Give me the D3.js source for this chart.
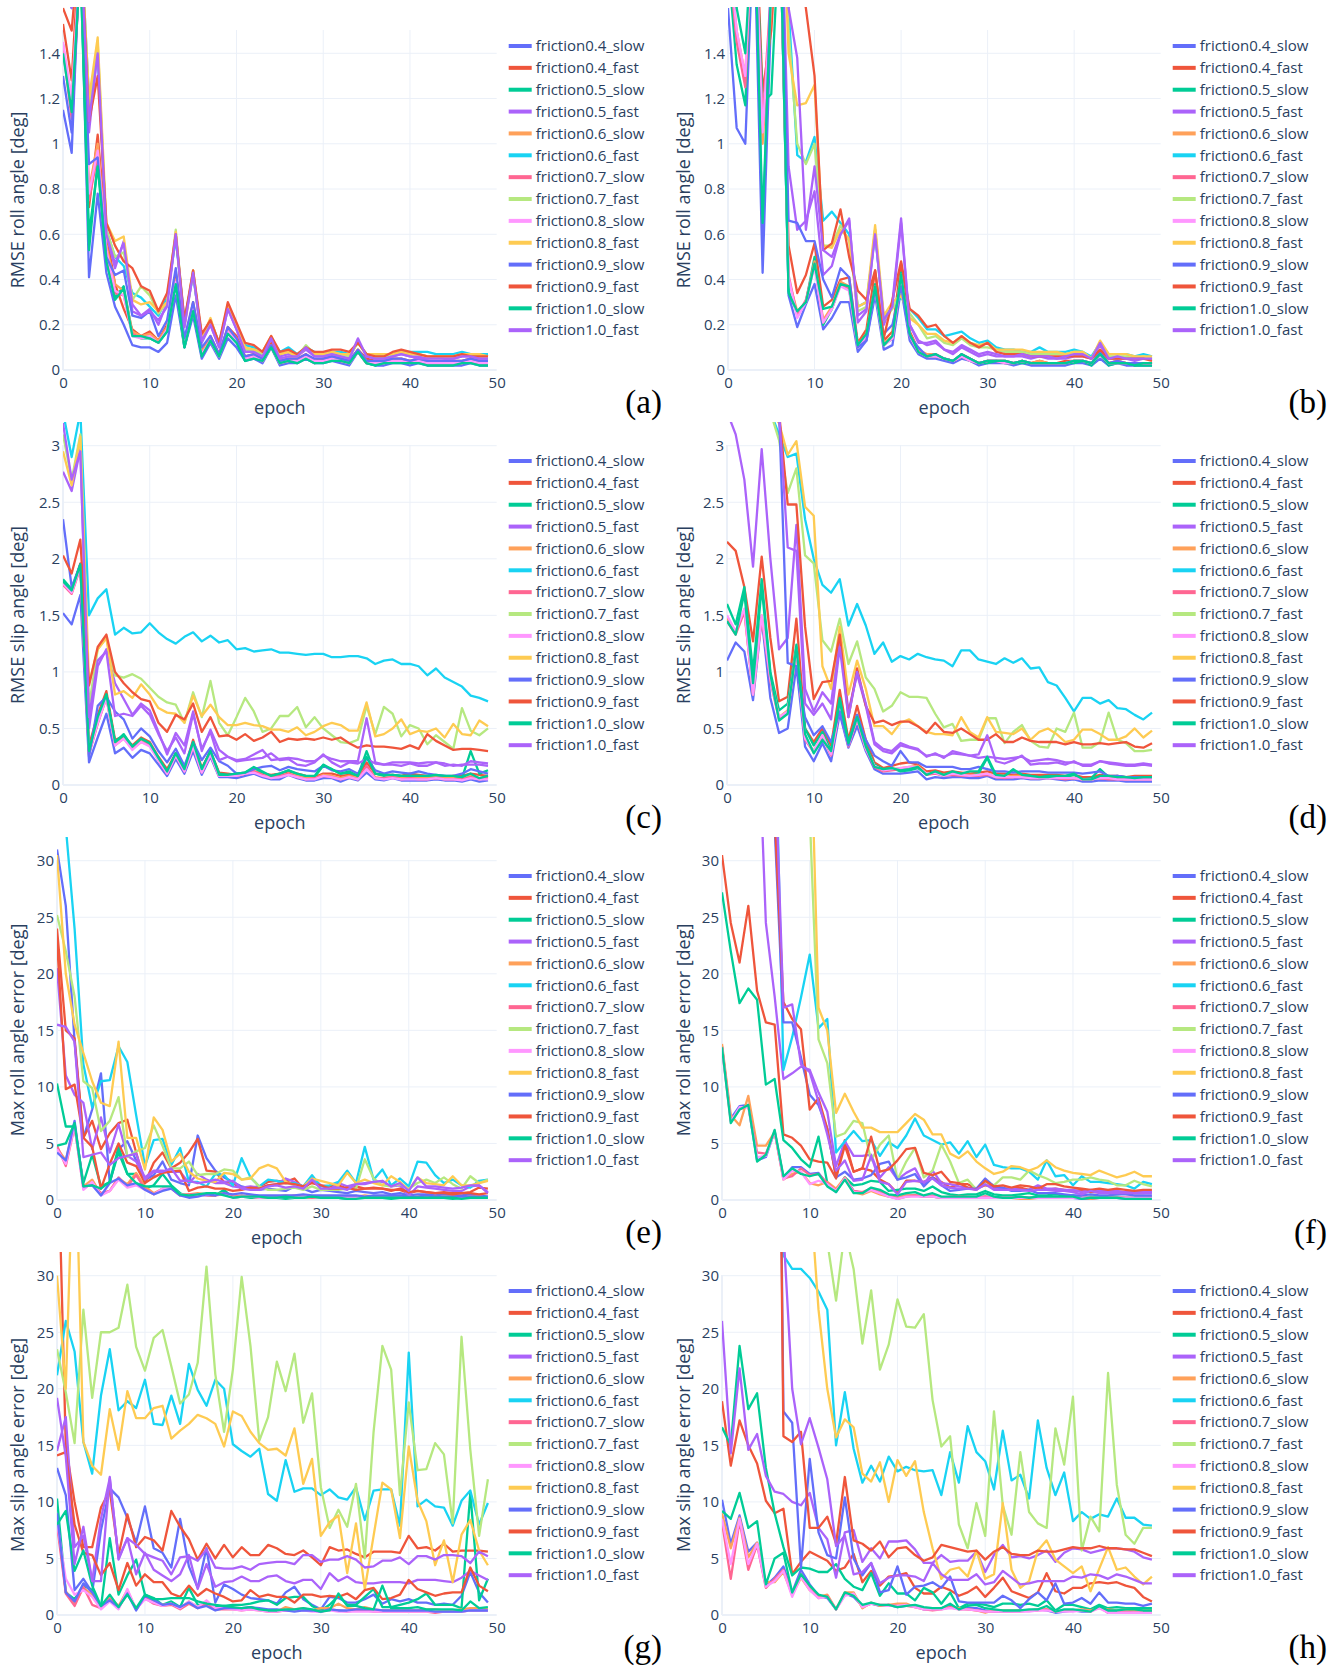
<!DOCTYPE html>
<html>
<head>
<meta charset="utf-8">
<script src="https://cdn.jsdelivr.net/npm/d3@7"></script>
<style>
body { margin: 0; background: #fff; }
text { font-family: "Open Sans", sans-serif; }
</style>
</head>
<body>
<div id="chart-area"></div>
<script>
// series names and the plotly colorway (repeats after 10)
var seriesNames = ["friction0.4_slow","friction0.4_fast","friction0.5_slow","friction0.5_fast",
    "friction0.6_slow","friction0.6_fast","friction0.7_slow","friction0.7_fast",
    "friction0.8_slow","friction0.8_fast","friction0.9_slow","friction0.9_fast",
    "friction1.0_slow","friction1.0_fast"];
var colors = ["#636efa","#EF553B","#00cc96","#ab63fa","#FFA15A","#19d3f3","#FF6692",
    "#B6E880","#FF97FF","#FECB52","#636efa","#EF553B","#00cc96","#ab63fa"];

var epochTicks = [0,10,20,30,40,50];
var rollRmseTicks = [0,0.2,0.4,0.6,0.8,1,1.2,1.4];
var slipRmseTicks = [0,0.5,1,1.5,2,2.5,3];
var maxErrTicks = [0,5,10,15,20,25,30];

// (a) RMSE roll angle, set 1
var rmseRollA = [
 [1.15,0.96,1.9,0.41,0.78,0.43,0.28,0.2,0.11,0.1, 0.1,0.08,0.12,0.33,0.1,0.24,0.05,0.12,0.05,0.14, 0.1,0.04,0.05,0.03,0.1,0.02,0.03,0.03,0.05,0.03, 0.03,0.04,0.03,0.02,0.08,0.03,0.02,0.02,0.03,0.03, 0.02,0.03,0.02,0.02,0.02,0.02,0.02,0.03,0.02,0.02],
 [1.53,1.28,1.95,0.72,1.04,0.6,0.38,0.27,0.18,0.15, 0.17,0.13,0.2,0.43,0.12,0.3,0.08,0.15,0.07,0.19, 0.15,0.06,0.07,0.05,0.12,0.04,0.05,0.05,0.07,0.04, 0.05,0.06,0.05,0.04,0.09,0.05,0.04,0.04,0.05,0.05, 0.04,0.05,0.04,0.04,0.04,0.04,0.04,0.05,0.04,0.04],
 [1.44,1.15,1.8,0.53,0.92,0.5,0.32,0.37,0.16,0.14, 0.14,0.12,0.17,0.38,0.1,0.27,0.07,0.13,0.06,0.17, 0.13,0.04,0.06,0.04,0.1,0.03,0.04,0.03,0.06,0.03, 0.04,0.05,0.04,0.03,0.08,0.03,0.02,0.03,0.04,0.04, 0.03,0.04,0.03,0.03,0.03,0.03,0.03,0.04,0.03,0.03],
 [1.8,1.7,1.9,1.05,1.42,0.6,0.45,0.57,0.26,0.24, 0.27,0.2,0.3,0.6,0.2,0.43,0.12,0.2,0.1,0.27, 0.18,0.08,0.09,0.06,0.14,0.06,0.07,0.06,0.09,0.06, 0.06,0.07,0.06,0.05,0.13,0.06,0.05,0.05,0.06,0.07, 0.06,0.06,0.05,0.06,0.05,0.05,0.06,0.06,0.05,0.05],
 [1.4,1.2,1.85,0.8,1.0,0.55,0.38,0.35,0.17,0.15, 0.16,0.13,0.19,0.4,0.11,0.28,0.08,0.14,0.07,0.18, 0.14,0.05,0.06,0.04,0.11,0.03,0.04,0.04,0.06,0.04, 0.04,0.05,0.04,0.03,0.09,0.04,0.03,0.03,0.04,0.04, 0.04,0.04,0.03,0.03,0.03,0.03,0.03,0.04,0.03,0.03],
 [1.7,1.6,1.95,1.2,1.4,0.62,0.5,0.46,0.34,0.32, 0.28,0.24,0.32,0.58,0.22,0.42,0.15,0.22,0.12,0.28, 0.2,0.11,0.1,0.08,0.14,0.08,0.1,0.07,0.1,0.08, 0.07,0.08,0.08,0.07,0.12,0.07,0.06,0.06,0.07,0.08, 0.08,0.08,0.08,0.07,0.07,0.07,0.08,0.07,0.07,0.07],
 [1.42,1.11,1.8,0.75,0.95,0.52,0.34,0.33,0.16,0.14, 0.15,0.12,0.18,0.39,0.11,0.27,0.07,0.13,0.06,0.17, 0.13,0.05,0.06,0.04,0.1,0.03,0.04,0.04,0.06,0.03, 0.04,0.05,0.04,0.03,0.08,0.03,0.03,0.03,0.04,0.04, 0.03,0.04,0.03,0.03,0.03,0.03,0.03,0.04,0.03,0.03],
 [1.75,1.65,1.95,1.15,1.45,0.62,0.5,0.52,0.31,0.37, 0.33,0.25,0.3,0.62,0.2,0.44,0.13,0.22,0.11,0.28, 0.19,0.09,0.09,0.07,0.14,0.07,0.08,0.06,0.11,0.07, 0.07,0.08,0.07,0.06,0.12,0.07,0.06,0.06,0.07,0.08, 0.07,0.07,0.06,0.06,0.06,0.06,0.07,0.07,0.06,0.06],
 [1.45,1.2,1.85,0.78,0.97,0.53,0.35,0.33,0.15,0.14, 0.15,0.12,0.18,0.39,0.11,0.27,0.07,0.13,0.06,0.17, 0.13,0.05,0.06,0.04,0.1,0.03,0.04,0.04,0.06,0.04, 0.04,0.05,0.04,0.03,0.08,0.04,0.03,0.03,0.04,0.04, 0.03,0.04,0.03,0.03,0.03,0.03,0.03,0.04,0.03,0.03],
 [1.8,1.7,1.95,1.2,1.47,0.65,0.57,0.59,0.31,0.29, 0.3,0.26,0.3,0.61,0.19,0.44,0.14,0.23,0.11,0.29, 0.2,0.1,0.09,0.08,0.15,0.07,0.08,0.06,0.1,0.07, 0.07,0.08,0.07,0.07,0.12,0.07,0.07,0.07,0.07,0.08, 0.07,0.07,0.06,0.06,0.06,0.06,0.07,0.07,0.07,0.06],
 [1.3,1.05,1.85,0.91,0.94,0.5,0.42,0.44,0.24,0.23, 0.26,0.15,0.22,0.45,0.14,0.3,0.1,0.15,0.07,0.19, 0.14,0.06,0.07,0.05,0.11,0.04,0.05,0.05,0.07,0.05, 0.05,0.06,0.05,0.04,0.09,0.04,0.04,0.04,0.05,0.05, 0.04,0.05,0.04,0.04,0.04,0.04,0.04,0.05,0.04,0.04],
 [1.6,1.5,1.95,1.1,1.3,0.65,0.55,0.48,0.45,0.37, 0.35,0.26,0.34,0.6,0.22,0.44,0.16,0.22,0.12,0.3, 0.21,0.12,0.11,0.08,0.15,0.08,0.09,0.07,0.1,0.08, 0.08,0.09,0.09,0.08,0.12,0.07,0.06,0.06,0.08,0.09, 0.08,0.07,0.06,0.06,0.06,0.06,0.07,0.06,0.06,0.06],
 [1.4,1.14,1.8,0.6,0.9,0.48,0.31,0.36,0.15,0.15, 0.14,0.12,0.17,0.38,0.1,0.26,0.06,0.13,0.06,0.16, 0.12,0.04,0.05,0.04,0.1,0.03,0.04,0.03,0.05,0.03, 0.03,0.04,0.04,0.03,0.08,0.03,0.02,0.03,0.03,0.03, 0.03,0.03,0.02,0.02,0.02,0.02,0.03,0.03,0.02,0.02],
 [1.7,1.6,1.9,1.1,1.4,0.6,0.47,0.56,0.29,0.24, 0.26,0.22,0.28,0.6,0.19,0.43,0.13,0.2,0.1,0.27, 0.18,0.08,0.08,0.06,0.14,0.05,0.06,0.06,0.1,0.06, 0.06,0.07,0.06,0.05,0.14,0.06,0.05,0.05,0.06,0.07, 0.06,0.05,0.05,0.05,0.05,0.05,0.06,0.06,0.05,0.05]
];

// (b) RMSE roll angle, set 2
var rmseRollB = [
 [1.6,1.07,1.0,2.0,0.43,1.6,2.0,0.33,0.19,0.29, 0.38,0.18,0.23,0.3,0.3,0.08,0.13,0.33,0.09,0.11, 0.36,0.13,0.07,0.05,0.05,0.04,0.03,0.05,0.04,0.02, 0.03,0.03,0.03,0.02,0.03,0.02,0.02,0.02,0.02,0.02, 0.03,0.03,0.02,0.05,0.02,0.03,0.02,0.02,0.02,0.02],
 [2.0,1.9,2.0,2.2,1.23,1.5,2.1,0.55,0.34,0.42, 0.56,0.28,0.31,0.4,0.41,0.12,0.18,0.44,0.13,0.17, 0.47,0.17,0.09,0.06,0.07,0.05,0.04,0.07,0.05,0.03, 0.04,0.04,0.04,0.03,0.04,0.03,0.04,0.03,0.03,0.04, 0.04,0.04,0.03,0.08,0.03,0.04,0.03,0.03,0.03,0.03],
 [1.8,1.35,1.17,2.1,1.18,1.22,2.0,0.35,0.25,0.3, 0.5,0.2,0.27,0.38,0.36,0.1,0.15,0.38,0.11,0.14, 0.43,0.15,0.08,0.06,0.06,0.05,0.04,0.06,0.04,0.03, 0.03,0.04,0.03,0.03,0.03,0.03,0.03,0.03,0.03,0.03, 0.03,0.04,0.02,0.07,0.02,0.03,0.03,0.02,0.02,0.02],
 [2.2,2.0,2.0,2.3,1.9,2.2,2.3,0.9,0.62,0.66, 0.79,0.42,0.46,0.6,0.67,0.21,0.26,0.62,0.2,0.3, 0.67,0.2,0.13,0.11,0.12,0.09,0.07,0.1,0.08,0.06, 0.07,0.06,0.06,0.06,0.06,0.05,0.06,0.05,0.05,0.05, 0.06,0.06,0.05,0.11,0.05,0.05,0.05,0.04,0.05,0.05],
 [1.9,1.5,1.3,2.1,1.0,1.6,2.0,0.4,0.26,0.3, 0.48,0.22,0.28,0.39,0.37,0.11,0.16,0.37,0.12,0.15, 0.42,0.16,0.09,0.07,0.07,0.05,0.04,0.06,0.05,0.03, 0.04,0.04,0.04,0.03,0.04,0.03,0.04,0.03,0.03,0.03, 0.04,0.04,0.03,0.07,0.03,0.04,0.03,0.03,0.03,0.03],
 [2.3,2.2,2.1,2.4,2.2,2.3,2.4,1.6,0.95,0.92, 1.03,0.66,0.7,0.65,0.6,0.28,0.3,0.6,0.23,0.28, 0.32,0.27,0.23,0.18,0.18,0.15,0.16,0.17,0.14,0.12, 0.13,0.1,0.09,0.09,0.08,0.08,0.1,0.08,0.08,0.08, 0.09,0.08,0.06,0.12,0.07,0.07,0.07,0.06,0.07,0.06],
 [1.85,1.45,1.25,2.1,1.1,1.7,2.0,0.42,0.24,0.31, 0.47,0.21,0.27,0.38,0.36,0.1,0.15,0.37,0.11,0.14, 0.42,0.15,0.08,0.06,0.06,0.05,0.04,0.06,0.04,0.03, 0.04,0.04,0.03,0.03,0.04,0.03,0.03,0.03,0.03,0.03, 0.04,0.04,0.03,0.07,0.03,0.03,0.03,0.03,0.03,0.03],
 [2.3,2.2,2.1,2.4,2.2,2.3,2.4,1.5,1.0,0.91, 1.0,0.55,0.55,0.64,0.57,0.26,0.28,0.62,0.22,0.27, 0.35,0.25,0.2,0.14,0.15,0.12,0.11,0.14,0.11,0.1, 0.1,0.09,0.08,0.08,0.08,0.07,0.07,0.07,0.07,0.07, 0.08,0.08,0.05,0.12,0.06,0.06,0.06,0.05,0.06,0.05],
 [1.9,1.5,1.3,2.1,1.05,1.65,2.0,0.41,0.23,0.3, 0.46,0.21,0.27,0.37,0.35,0.1,0.15,0.36,0.11,0.14, 0.41,0.15,0.08,0.06,0.06,0.05,0.04,0.06,0.04,0.03, 0.04,0.04,0.03,0.03,0.04,0.03,0.03,0.03,0.03,0.03, 0.04,0.04,0.03,0.07,0.03,0.03,0.03,0.03,0.03,0.03],
 [2.3,2.2,2.1,2.4,2.2,2.3,2.4,1.4,1.17,1.18, 1.26,0.55,0.54,0.62,0.58,0.28,0.3,0.64,0.24,0.3, 0.33,0.23,0.2,0.16,0.16,0.13,0.12,0.15,0.12,0.11, 0.12,0.09,0.09,0.09,0.09,0.08,0.08,0.08,0.08,0.07, 0.08,0.08,0.05,0.13,0.07,0.07,0.07,0.06,0.06,0.06],
 [2.1,2.0,1.9,2.2,0.55,1.8,2.2,0.66,0.65,0.57, 0.57,0.4,0.32,0.45,0.41,0.1,0.13,0.36,0.16,0.2, 0.37,0.15,0.1,0.06,0.07,0.05,0.04,0.07,0.05,0.03, 0.04,0.04,0.04,0.03,0.04,0.03,0.03,0.03,0.03,0.03, 0.04,0.04,0.03,0.08,0.03,0.04,0.03,0.03,0.03,0.03],
 [2.3,2.2,2.1,2.4,2.3,2.3,2.4,2.0,1.8,1.6, 1.3,0.53,0.56,0.71,0.5,0.35,0.31,0.44,0.14,0.31, 0.48,0.27,0.24,0.19,0.2,0.15,0.12,0.15,0.12,0.1, 0.12,0.08,0.07,0.07,0.07,0.06,0.06,0.06,0.06,0.06, 0.06,0.06,0.05,0.09,0.05,0.05,0.05,0.05,0.05,0.04],
 [1.9,1.6,1.4,2.1,0.65,1.7,2.0,0.34,0.26,0.3, 0.47,0.27,0.28,0.38,0.37,0.11,0.16,0.37,0.11,0.15, 0.42,0.16,0.08,0.06,0.07,0.05,0.04,0.07,0.05,0.03, 0.04,0.04,0.04,0.03,0.04,0.03,0.03,0.03,0.03,0.03, 0.04,0.04,0.03,0.07,0.03,0.03,0.03,0.02,0.03,0.03],
 [2.2,2.1,2.0,2.3,2.0,2.2,2.3,1.6,1.38,0.62, 0.9,0.53,0.5,0.6,0.66,0.24,0.27,0.6,0.22,0.28, 0.65,0.2,0.12,0.12,0.13,0.09,0.08,0.11,0.09,0.07, 0.08,0.07,0.06,0.06,0.07,0.06,0.06,0.06,0.05,0.06, 0.07,0.07,0.05,0.12,0.05,0.06,0.05,0.05,0.05,0.05]
];

// (c) RMSE slip angle, set 1
var rmseSlipC = [
 [1.52,1.42,1.68,0.2,0.42,0.63,0.28,0.33,0.24,0.31, 0.28,0.18,0.08,0.23,0.1,0.3,0.09,0.25,0.07,0.07, 0.06,0.08,0.1,0.07,0.05,0.05,0.09,0.06,0.04,0.04, 0.06,0.06,0.03,0.06,0.04,0.11,0.05,0.04,0.06,0.04, 0.04,0.04,0.04,0.05,0.04,0.04,0.03,0.05,0.03,0.04],
 [1.8,1.72,1.96,0.35,0.62,0.83,0.4,0.43,0.35,0.42, 0.38,0.25,0.14,0.28,0.14,0.4,0.15,0.3,0.11,0.1, 0.09,0.11,0.12,0.1,0.09,0.1,0.12,0.1,0.08,0.07, 0.1,0.1,0.08,0.09,0.08,0.2,0.1,0.09,0.09,0.08, 0.1,0.09,0.08,0.08,0.07,0.08,0.08,0.1,0.09,0.08],
 [1.82,1.73,1.95,0.3,0.58,0.8,0.38,0.45,0.34,0.4, 0.36,0.24,0.12,0.28,0.14,0.37,0.14,0.3,0.1,0.09, 0.1,0.11,0.15,0.11,0.08,0.1,0.13,0.09,0.07,0.07, 0.17,0.14,0.1,0.11,0.08,0.3,0.1,0.08,0.09,0.08, 0.08,0.08,0.07,0.08,0.08,0.07,0.06,0.3,0.1,0.13],
 [2.77,2.6,2.97,0.5,1.05,1.2,0.9,0.76,0.62,0.72, 0.66,0.47,0.27,0.46,0.35,0.65,0.3,0.49,0.31,0.25, 0.21,0.22,0.23,0.24,0.28,0.22,0.23,0.18,0.17,0.2, 0.27,0.2,0.16,0.2,0.19,0.23,0.19,0.18,0.18,0.17, 0.19,0.17,0.17,0.2,0.17,0.18,0.17,0.21,0.2,0.19],
 [1.78,1.7,1.93,0.28,0.55,0.78,0.36,0.42,0.33,0.39, 0.35,0.23,0.11,0.27,0.13,0.35,0.12,0.28,0.08,0.08, 0.08,0.1,0.12,0.09,0.07,0.08,0.1,0.08,0.06,0.06, 0.09,0.08,0.06,0.08,0.06,0.15,0.07,0.06,0.07,0.06, 0.06,0.06,0.06,0.07,0.06,0.06,0.05,0.08,0.06,0.07],
 [3.3,2.9,3.3,1.5,1.65,1.73,1.33,1.39,1.34,1.35, 1.43,1.35,1.29,1.25,1.31,1.35,1.27,1.32,1.26,1.28, 1.2,1.21,1.18,1.19,1.2,1.17,1.17,1.16,1.15,1.16, 1.16,1.13,1.13,1.14,1.14,1.12,1.07,1.1,1.11,1.07, 1.07,1.05,0.97,1.03,0.95,0.91,0.87,0.79,0.77,0.74],
 [1.77,1.69,1.92,0.27,0.54,0.77,0.35,0.41,0.32,0.38, 0.35,0.22,0.1,0.26,0.12,0.34,0.11,0.27,0.08,0.08, 0.08,0.1,0.12,0.09,0.06,0.08,0.1,0.07,0.05,0.06, 0.08,0.07,0.05,0.07,0.05,0.17,0.06,0.06,0.07,0.05, 0.06,0.05,0.05,0.06,0.05,0.05,0.05,0.07,0.05,0.06],
 [3.1,2.7,3.1,0.7,1.2,1.3,0.97,0.95,0.98,0.94, 0.86,0.78,0.73,0.71,0.55,0.82,0.6,0.92,0.55,0.44, 0.6,0.77,0.65,0.47,0.5,0.61,0.61,0.69,0.51,0.6, 0.5,0.44,0.38,0.37,0.4,0.7,0.45,0.69,0.63,0.43, 0.53,0.5,0.36,0.44,0.38,0.32,0.68,0.48,0.44,0.5],
 [1.78,1.7,1.93,0.28,0.55,0.77,0.35,0.41,0.31,0.38, 0.34,0.22,0.1,0.26,0.12,0.34,0.11,0.27,0.08,0.08, 0.08,0.1,0.11,0.08,0.06,0.07,0.09,0.07,0.05,0.05, 0.08,0.07,0.05,0.07,0.05,0.14,0.06,0.05,0.06,0.05, 0.05,0.05,0.05,0.06,0.05,0.05,0.04,0.06,0.05,0.05],
 [2.95,2.65,3.08,0.9,1.2,1.3,0.8,0.83,0.77,0.89, 0.8,0.68,0.64,0.63,0.55,0.79,0.61,0.71,0.6,0.53, 0.53,0.55,0.53,0.52,0.49,0.49,0.47,0.51,0.44,0.47, 0.52,0.55,0.53,0.48,0.48,0.73,0.43,0.45,0.5,0.58, 0.45,0.48,0.47,0.5,0.42,0.54,0.45,0.44,0.57,0.52],
 [2.35,1.75,1.95,0.25,0.7,0.78,0.65,0.58,0.41,0.5, 0.43,0.3,0.2,0.32,0.17,0.38,0.22,0.33,0.21,0.17, 0.1,0.11,0.14,0.16,0.17,0.13,0.16,0.14,0.13,0.12, 0.17,0.13,0.12,0.14,0.1,0.24,0.13,0.1,0.12,0.11, 0.1,0.12,0.1,0.09,0.08,0.08,0.1,0.14,0.12,0.1],
 [2.03,1.87,2.17,0.88,1.22,1.33,1.0,0.9,0.82,0.76, 0.74,0.55,0.47,0.62,0.58,0.72,0.47,0.6,0.43,0.44, 0.4,0.45,0.39,0.42,0.47,0.38,0.41,0.4,0.41,0.4, 0.42,0.4,0.42,0.37,0.33,0.35,0.34,0.34,0.33,0.32, 0.35,0.32,0.45,0.39,0.35,0.31,0.32,0.32,0.31,0.3],
 [1.8,1.72,1.95,0.3,0.6,0.8,0.38,0.44,0.34,0.41, 0.37,0.24,0.12,0.28,0.14,0.38,0.14,0.3,0.09,0.09, 0.1,0.11,0.16,0.12,0.08,0.1,0.13,0.1,0.08,0.08, 0.18,0.14,0.1,0.12,0.08,0.25,0.1,0.09,0.09,0.08, 0.08,0.08,0.08,0.09,0.08,0.08,0.07,0.1,0.06,0.08],
 [3.2,2.7,2.95,0.6,1.1,1.18,0.61,0.63,0.61,0.7, 0.62,0.45,0.3,0.42,0.28,0.63,0.32,0.47,0.22,0.25, 0.22,0.23,0.27,0.31,0.22,0.23,0.24,0.23,0.21,0.21, 0.26,0.23,0.21,0.21,0.21,0.59,0.2,0.18,0.2,0.2, 0.2,0.19,0.2,0.2,0.19,0.17,0.18,0.18,0.18,0.17]
];

// (d) RMSE slip angle, set 2
var rmseSlipD = [
 [1.1,1.26,1.18,0.75,1.47,0.77,0.46,0.5,1.05,0.34, 0.21,0.37,0.21,0.63,0.33,0.52,0.3,0.14,0.1,0.1, 0.1,0.11,0.12,0.05,0.07,0.06,0.07,0.07,0.06,0.06, 0.08,0.05,0.05,0.05,0.06,0.05,0.05,0.06,0.05,0.04, 0.05,0.03,0.03,0.04,0.04,0.04,0.03,0.03,0.03,0.03],
 [2.15,2.07,1.75,1.27,2.02,1.3,0.74,0.78,1.47,0.5, 0.38,0.5,0.35,0.84,0.4,0.7,0.4,0.2,0.15,0.17, 0.19,0.2,0.18,0.12,0.13,0.11,0.12,0.11,0.1,0.11, 0.12,0.1,0.1,0.09,0.1,0.09,0.09,0.09,0.09,0.08, 0.09,0.07,0.07,0.09,0.08,0.08,0.07,0.08,0.08,0.08],
 [1.6,1.42,1.75,1.0,1.82,1.0,0.66,0.72,1.24,0.5, 0.35,0.47,0.3,0.77,0.38,0.62,0.35,0.18,0.14,0.15, 0.12,0.13,0.15,0.1,0.11,0.08,0.1,0.09,0.08,0.1, 0.24,0.07,0.08,0.13,0.09,0.08,0.07,0.08,0.08,0.07, 0.09,0.05,0.06,0.14,0.07,0.08,0.07,0.07,0.07,0.07],
 [3.3,3.1,2.7,1.93,2.97,2.0,1.2,1.3,2.3,0.85, 0.65,0.82,0.72,1.3,0.65,0.98,0.7,0.36,0.3,0.28, 0.35,0.33,0.31,0.26,0.27,0.25,0.28,0.27,0.26,0.24, 0.25,0.24,0.23,0.24,0.25,0.21,0.22,0.23,0.22,0.2, 0.2,0.18,0.18,0.21,0.2,0.19,0.18,0.18,0.19,0.18],
 [1.48,1.35,1.55,0.8,1.5,0.95,0.6,0.66,1.2,0.42, 0.3,0.44,0.27,0.7,0.35,0.6,0.33,0.17,0.13,0.14, 0.15,0.16,0.17,0.1,0.11,0.09,0.1,0.09,0.09,0.09, 0.1,0.07,0.07,0.08,0.08,0.06,0.06,0.07,0.07,0.06, 0.06,0.05,0.05,0.06,0.06,0.06,0.05,0.06,0.06,0.06],
 [3.4,3.4,3.4,3.4,3.4,3.3,3.1,2.9,2.93,2.35, 2.0,1.77,1.7,1.82,1.41,1.6,1.41,1.16,1.26,1.09, 1.14,1.11,1.16,1.13,1.11,1.1,1.05,1.19,1.19,1.11, 1.09,1.07,1.12,1.08,1.12,1.03,1.04,0.91,0.88,0.77, 0.65,0.77,0.77,0.72,0.75,0.68,0.67,0.62,0.58,0.64],
 [1.45,1.33,1.53,0.82,1.48,0.92,0.58,0.64,1.18,0.4, 0.29,0.43,0.26,0.68,0.34,0.58,0.32,0.16,0.12,0.13, 0.14,0.15,0.16,0.09,0.1,0.08,0.09,0.08,0.08,0.08, 0.09,0.07,0.06,0.07,0.07,0.06,0.06,0.06,0.06,0.05, 0.06,0.05,0.05,0.06,0.05,0.05,0.05,0.05,0.05,0.05],
 [3.4,3.4,3.4,3.4,3.4,3.3,3.05,2.58,2.8,2.03, 1.96,1.28,1.18,1.47,1.07,1.27,0.95,0.85,0.65,0.7, 0.82,0.78,0.78,0.77,0.63,0.51,0.54,0.39,0.4,0.4, 0.59,0.59,0.37,0.47,0.53,0.39,0.34,0.33,0.5,0.47, 0.64,0.33,0.33,0.38,0.64,0.4,0.37,0.3,0.3,0.31],
 [1.5,1.36,1.56,0.8,1.5,0.94,0.6,0.65,1.19,0.41, 0.3,0.44,0.27,0.69,0.35,0.59,0.32,0.17,0.13,0.14, 0.15,0.16,0.16,0.1,0.11,0.08,0.1,0.09,0.08,0.09, 0.1,0.07,0.07,0.07,0.07,0.06,0.06,0.06,0.06,0.06, 0.06,0.05,0.05,0.06,0.06,0.05,0.05,0.05,0.05,0.05],
 [3.4,3.4,3.4,3.4,3.4,3.3,3.2,2.92,3.04,2.46, 2.38,1.05,0.85,1.4,0.8,1.1,0.85,0.52,0.52,0.45, 0.55,0.58,0.52,0.47,0.45,0.45,0.44,0.6,0.47,0.42, 0.6,0.47,0.46,0.45,0.5,0.4,0.47,0.5,0.45,0.38, 0.4,0.49,0.49,0.45,0.4,0.4,0.43,0.5,0.42,0.48],
 [3.4,3.4,3.4,3.4,3.4,3.4,3.3,1.08,1.05,0.6, 0.44,0.52,0.38,0.65,0.35,0.62,0.4,0.26,0.21,0.17, 0.3,0.2,0.2,0.16,0.16,0.16,0.16,0.14,0.14,0.16, 0.14,0.12,0.12,0.11,0.12,0.12,0.12,0.11,0.11,0.11, 0.11,0.1,0.11,0.12,0.08,0.08,0.07,0.07,0.07,0.07],
 [3.4,3.4,3.4,3.4,3.4,3.4,3.3,2.48,2.48,1.4, 0.76,0.91,0.92,1.33,0.6,1.03,0.7,0.55,0.57,0.53, 0.56,0.56,0.52,0.46,0.55,0.47,0.46,0.5,0.45,0.4, 0.4,0.45,0.38,0.38,0.42,0.39,0.38,0.38,0.38,0.36, 0.38,0.36,0.36,0.37,0.36,0.37,0.38,0.34,0.33,0.37],
 [1.45,1.33,1.7,0.9,1.75,0.98,0.57,0.63,1.22,0.45, 0.28,0.4,0.3,0.74,0.37,0.6,0.34,0.16,0.14,0.15, 0.13,0.14,0.16,0.09,0.12,0.09,0.12,0.1,0.12,0.12, 0.25,0.09,0.08,0.14,0.09,0.08,0.07,0.07,0.08,0.08, 0.1,0.05,0.05,0.08,0.08,0.07,0.07,0.06,0.07,0.07],
 [3.4,3.4,3.4,3.4,3.4,3.4,3.3,2.1,2.07,0.72, 0.62,0.72,0.58,1.22,0.6,1.0,0.72,0.38,0.32,0.3, 0.37,0.34,0.32,0.25,0.28,0.24,0.3,0.28,0.26,0.27, 0.44,0.21,0.19,0.22,0.26,0.18,0.19,0.19,0.2,0.18, 0.21,0.17,0.17,0.21,0.19,0.18,0.17,0.17,0.18,0.17]
];

// (e) max roll angle error, set 1
var maxRollE = [
 [31,26,14,5.5,8,11.2,1.5,4.5,5.2,3.5, 1.8,2.2,3.4,1.8,1.5,1.3,5.7,3.7,2.6,2.0, 1.6,1.2,1.0,0.9,1.0,0.9,0.8,1.2,1.0,0.7, 0.9,0.8,0.7,0.6,0.8,0.7,0.6,0.7,0.5,0.6, 0.4,0.5,0.5,0.4,0.5,0.4,0.4,0.5,0.4,0.3],
 [24,15,14.3,5.5,7,4.5,5.9,6.8,7.1,4.2, 1.5,3.3,4.2,2.8,3.3,4.2,5.4,2.6,2.5,1.6, 1.5,1.0,1.1,1.2,1.6,1.7,1.6,1.9,1.0,1.6, 1.3,1.2,1.3,1.0,1.2,1.0,1.1,1.0,0.9,0.9, 0.6,0.8,0.7,0.6,0.7,0.6,0.6,0.7,1.1,1.0],
 [10.3,6.5,6.5,1.5,4.0,1.2,1.6,4.7,2.3,2.3, 1.0,1.3,2.3,1.3,0.6,0.3,0.5,0.4,0.4,0.9, 0.2,0.3,0.2,0.2,0.3,0.2,0.1,0.2,0.2,0.3, 0.2,0.2,0.2,0.1,0.2,0.2,0.2,0.2,0.1,0.2, 0.2,0.2,0.2,0.2,0.2,0.1,0.2,0.2,0.2,0.2],
 [20.5,11,9.3,8.6,4.5,7.3,4.2,6.7,3.9,3.4, 2.0,2.6,2.6,2.5,2.5,1.5,2.3,1.8,1.5,1.5, 1.2,1.1,1.2,1.1,1.3,1.4,1.9,1.6,1.2,2.0, 1.3,0.9,1.5,1.2,1.4,1.4,1.6,1.6,1.2,1.3, 0.4,1.2,1.1,1.0,0.9,0.8,0.8,1.2,1.3,0.7],
 [4.6,3.5,6.8,1.2,1.8,0.5,0.8,1.9,1.4,2.4, 1.2,0.6,1.0,1.1,0.5,0.5,0.6,0.5,0.5,0.6, 0.3,0.4,0.3,0.2,0.3,0.3,0.4,0.3,0.3,0.2, 0.3,0.3,0.2,0.3,0.3,0.4,0.3,0.2,0.3,0.3, 0.2,0.3,0.3,0.2,0.3,0.3,0.2,0.3,0.3,0.2],
 [45,33,24,12,8.2,10.5,10.6,13.6,12.2,7.5, 3,5.3,5.4,3.1,4.6,1.6,1.6,1.2,2.3,2.2, 1.3,3.7,2.0,1.2,1.8,1.7,1.5,1.5,1.2,2.2, 1.2,1.3,1.6,2.6,1.5,4.7,1.8,2.7,1.3,1.9, 1.2,3.4,3.3,2.2,1.5,1.8,1.3,1.1,1.7,1.8],
 [4.8,3.0,6.5,1.0,1.5,0.6,0.8,2.0,1.2,2.2, 1.0,0.5,1.0,1.0,0.4,0.5,0.5,0.4,0.4,0.5, 0.3,0.3,0.4,0.3,0.2,0.3,0.3,0.4,0.3,0.2, 0.3,0.3,0.2,0.3,0.3,0.2,0.3,0.3,0.2,0.3, 0.3,0.2,0.3,0.3,0.2,0.3,0.2,0.3,0.3,0.2],
 [25.2,22,18,10.5,9.9,6.1,7.0,9.1,3.8,4.3, 4.6,6.6,4.8,2.8,2.8,3.4,2.2,2.3,2.3,2.7, 2.6,1.8,2.0,1.2,0.9,0.9,1.0,1.1,0.9,1.2, 0.9,0.9,0.9,1.0,1.0,3.6,1.9,1.3,1.2,1.4, 1.0,1.5,1.8,1.5,2.0,1.4,1.0,2.1,1.5,1.8],
 [4.5,3.2,6.6,0.9,1.6,0.4,0.8,1.8,1.1,1.3, 0.9,0.5,1.0,1.1,0.5,0.4,0.5,0.4,0.5,0.5, 0.2,0.3,0.3,0.2,0.3,0.2,0.3,0.2,0.3,0.3, 0.2,0.2,0.3,0.2,0.2,0.3,0.2,0.2,0.3,0.2, 0.3,0.2,0.2,0.2,0.2,0.2,0.2,0.2,0.3,0.2],
 [30.5,20,15.5,13,10.5,8.6,8.3,14,5.5,5.5, 2.7,7.3,6.2,3.4,4.1,2.5,1.9,1.7,1.6,2.4, 2.3,1.8,1.9,2.8,3.1,2.8,1.6,1.3,1.2,1.9, 1.7,1.5,1.3,2.4,1.5,1.8,1.5,1.3,2.1,1.6, 0.9,2.0,1.5,1.4,1.3,2.1,1.3,1.3,1.5,1.7],
 [4.2,3.5,7.0,1.2,1.3,0.4,1.5,1.9,1.3,1.5, 0.9,0.5,0.8,1.0,0.4,0.2,0.3,0.5,0.4,0.6, 0.5,0.6,0.5,0.4,0.4,0.4,0.4,0.4,0.5,0.4, 0.4,0.4,0.4,0.4,0.4,0.3,0.4,0.4,0.4,0.4, 0.3,0.3,0.4,0.3,0.3,0.3,0.3,0.3,0.3,0.3],
 [23,9.8,10.2,5.5,4.7,1.0,3.2,5.0,3.3,3.0, 1.5,2.0,2.4,2.5,2.6,0.8,1.1,1.2,1.0,1.0, 0.8,0.9,1.1,1.0,1.3,1.4,1.5,1.4,1.2,1.5, 1.3,1.0,1.0,1.1,0.9,1.0,1.0,1.0,0.8,1.0, 0.7,0.8,0.7,0.6,0.6,0.5,0.6,0.6,0.5,0.6],
 [4.8,5.0,6.8,1.2,1.3,1.0,1.6,4.2,2.3,1.5, 1.2,1.2,1.2,1.2,0.5,0.4,0.5,0.6,0.6,0.4, 0.2,0.3,0.3,0.3,0.2,0.2,0.3,0.2,0.2,0.3, 0.2,0.2,0.2,0.1,0.1,0.2,0.2,0.2,0.2,0.2, 0.2,0.2,0.2,0.2,0.2,0.2,0.1,0.2,0.2,0.2],
 [15.5,15.3,14,3.8,4.0,4.2,3.1,3.7,3.9,4.1, 1.8,2.5,2.5,2.8,1.7,1.7,1.5,1.6,1.8,1.6, 1.7,1.0,0.9,0.9,1.2,1.3,1.1,1.2,1.0,1.8, 1.0,1.0,1.1,0.9,1.4,1.5,1.6,1.7,1.2,1.5, 0.8,2.0,1.2,1.2,1.1,1.0,1.1,1.3,1.3,0.6]
];

// (f) max roll angle error, set 2
var maxRollF = [
 [13.6,7.2,8.3,8.4,3.5,3.8,6.1,2.0,2.9,2.9, 2.3,2.4,1.4,0.7,2.0,0.8,0.6,1.0,0.8,0.3, 0.2,0.4,0.4,0.3,0.3,0.2,0.2,0.3,0.2,0.2, 0.3,0.2,0.2,0.2,0.2,0.2,0.2,0.2,0.2,0.2, 0.2,0.1,0.1,0.2,0.2,0.2,0.1,0.1,0.2,0.2],
 [30.5,24.5,21,26,18.5,15.7,15.5,5.8,5.5,4.8, 3.6,3.4,3.3,1.9,5.3,2.5,2.8,2.6,1.8,1.4, 0.6,1.7,1.7,1.6,2.0,1.6,1.1,1.4,1.4,1.0, 1.3,1.2,1.0,1.0,1.1,0.9,1.2,0.9,1.0,0.9, 0.8,0.9,0.7,0.7,0.8,0.7,0.7,0.6,0.6,0.7],
 [27.2,22,17.4,18.7,17.7,10.2,10.7,5.3,4.6,3.6, 2.9,5.6,1.5,0.8,2.0,1.3,1.4,1.7,1.6,0.8, 0.9,1.0,1.0,0.8,1.2,0.7,0.5,0.4,0.5,0.5, 0.8,0.5,0.4,0.4,0.5,0.6,0.4,0.4,0.5,0.4, 0.4,0.2,0.3,0.3,0.3,0.3,0.2,0.2,0.2,0.2],
 [45,45,45,45,45,24.5,18,10.7,11.2,11.8, 11.5,9.5,7.8,3.0,5.2,3.9,3.9,4.0,2.0,2.9, 1.8,2.4,2.8,1.3,2.6,1.5,1.4,1.2,1.1,1.0, 1.8,1.0,1.0,1.0,0.9,0.9,1.3,1.0,1.0,0.9, 0.9,0.7,0.9,0.8,0.8,0.8,0.7,0.7,0.7,0.7],
 [13.8,7.5,6.6,9.2,4.8,4.8,6.0,1.8,2.3,2.5, 1.5,1.3,1.6,1.0,2.0,0.7,0.5,0.8,0.5,0.3, 0.2,0.4,0.4,0.3,0.3,0.2,0.2,0.3,0.2,0.2, 0.3,0.2,0.2,0.2,0.1,0.1,0.2,0.2,0.2,0.2, 0.2,0.2,0.1,0.2,0.2,0.2,0.2,0.1,0.2,0.2],
 [45,45,45,45,45,45,45,11.5,14.4,17.9, 21.7,15.2,16.0,4.2,5.2,6.1,5.2,5.3,3.9,5.1, 4.6,5.7,7.2,5.7,5.3,4.9,5.1,4.1,5.2,3.8, 4.9,3.1,2.9,2.8,2.8,2.5,1.8,3.5,2.1,2.2, 1.3,2.1,1.6,1.6,1.5,1.4,1.3,1.0,1.6,1.4],
 [13.5,7.0,8.0,8.3,4.2,4.1,6.0,1.9,2.1,2.8, 2.2,2.3,1.5,0.8,1.9,0.8,0.7,1.0,0.8,0.4, 0.1,0.3,0.4,0.3,0.4,0.2,0.3,0.3,0.3,0.2, 0.3,0.2,0.2,0.2,0.2,0.2,0.2,0.2,0.2,0.2, 0.2,0.2,0.2,0.2,0.2,0.2,0.2,0.2,0.2,0.2],
 [45,45,45,45,45,45,45,45,45,45, 34,14.2,12.1,5.6,5.9,7.0,6.8,3.5,4.9,5.7, 1.8,3.4,4.6,2.0,2.6,4.9,3.4,1.5,1.8,0.9, 1.6,1.3,2.0,2.0,1.8,2.6,2.2,1.9,1.5,1.6, 1.8,1.8,2.0,1.8,1.7,1.3,1.3,1.7,1.4,1.2],
 [13.4,6.9,8.2,8.2,3.8,3.9,6.1,1.8,2.6,2.5, 1.4,1.7,1.4,0.8,1.9,0.7,0.6,0.9,0.6,0.3, 0.1,0.3,0.3,0.3,0.3,0.2,0.2,0.2,0.2,0.2, 0.2,0.2,0.2,0.2,0.2,0.2,0.2,0.2,0.2,0.2, 0.2,0.2,0.2,0.2,0.2,0.2,0.2,0.2,0.2,0.2],
 [45,45,45,45,45,45,45,45,45,45, 45,17,15,7.7,9.4,7.8,6.4,6.4,6.0,6.0, 6.0,6.8,7.6,7.1,5.8,5.8,4.1,3.7,4.3,3.4, 2.8,2.3,2.5,3.0,2.9,2.6,2.9,3.5,2.9,2.6, 2.4,2.3,2.2,2.6,2.3,2.0,2.2,2.5,2.1,2.1],
 [45,45,45,45,45,45,33,15.7,15.7,12.6, 9.3,8.4,6.3,2.0,2.5,1.8,1.9,2.2,3.2,3.4, 1.8,2.0,2.3,1.2,2.0,1.3,0.8,0.9,1.0,1.0, 1.9,1.2,1.1,0.8,0.8,0.9,0.6,0.6,0.6,0.5, 0.4,0.4,0.5,0.4,0.4,0.5,0.5,0.4,0.4,0.4],
 [45,45,45,45,45,45,34,17.5,16,15.1, 8.0,9.0,6.3,2.0,4.8,2.5,2.8,5.6,2.5,2.7, 3.5,4.5,4.6,2.4,2.2,2.5,1.6,1.5,1.1,0.9, 1.7,1.2,1.3,1.1,1.3,1.2,1.0,1.4,1.4,1.2, 1.1,1.0,0.9,1.0,0.9,1.0,0.9,0.8,0.9,0.9],
 [13.5,6.8,8.0,8.4,3.4,4.0,6.2,2.1,2.8,2.3, 2.1,2.3,1.2,0.7,1.8,0.6,0.6,1.1,0.9,0.5, 0.4,0.6,0.7,0.4,0.6,0.3,0.3,0.3,0.3,0.3, 0.6,0.3,0.2,0.2,0.3,0.2,0.3,0.3,0.3,0.3, 0.3,0.1,0.2,0.2,0.2,0.2,0.1,0.1,0.1,0.1],
 [45,45,45,45,45,45,40,17,17.3,12, 11.3,8.7,5.8,2.6,3.5,1.7,1.8,3.9,1.6,1.4, 0.5,1.6,1.7,1.6,1.9,1.3,1.1,1.0,1.0,0.9, 1.4,0.9,0.9,0.9,0.9,0.8,0.9,0.9,0.8,0.8, 0.7,0.5,0.8,0.6,0.6,0.6,0.6,0.6,0.6,0.6]
];

// (g) max slip angle error, set 1
var maxSlipG = [
 [13,10.6,2.2,3.2,2.0,7.5,11.2,10.4,8.6,6.4, 9.6,5.9,5.5,4.2,8.5,4.3,2.4,5.9,1.1,2.7, 2.3,1.8,1.5,1.4,1.3,1.0,2.0,2.5,1.4,0.9, 0.5,1.6,1.5,1.1,1.1,1.4,1.8,1.0,1.4,1.2, 1.4,1.1,1.1,0.9,1.0,0.9,1.7,3.8,2.0,1.1],
 [45,15,10,6,6,9.5,11,5.3,8.9,6.0, 6.9,6.6,5.7,9.2,7.8,6.7,4.9,6.3,5.0,6.2, 5.1,6.0,5.3,5.3,6.2,5.9,5.4,5.3,5.7,5.1, 4.4,6.0,5.7,5.8,5.4,5.1,5.6,5.6,5.6,5.5, 7.0,5.9,6.0,5.7,6.3,5.6,5.7,5.7,5.7,5.6],
 [10.3,2.0,1.4,2.6,2.2,0.7,6.8,1.8,3.5,4.9, 1.8,1.5,0.9,1.2,0.7,2.4,0.9,0.9,0.7,0.8, 0.9,0.9,1.0,1.2,1.3,0.9,1.5,1.6,1.6,0.8, 0.4,0.9,1.7,0.9,0.9,1.6,2.3,0.7,0.7,0.9, 1.1,1.4,1.9,0.9,0.9,0.9,0.6,10.8,1.3,3.2],
 [14.5,17.5,6,7,3.0,8.5,12.1,5.0,6.8,3.6, 5.5,4.0,3.5,3.0,3.6,5.3,2.3,4.5,2.5,2.9, 3.0,3.4,3.0,3.0,3.4,3.5,3.0,2.8,3.1,3.1, 2.3,3.7,3.0,3.4,2.9,2.8,2.8,2.9,2.9,2.9, 2.8,3.1,3.1,3.1,3.0,2.9,3.3,3.9,3.5,3.1],
 [8.5,2.1,1.0,2.4,1.8,0.6,1.5,0.8,2.2,0.5, 1.6,1.2,0.9,1.0,0.6,1.2,0.7,1.0,0.5,0.6, 0.6,0.5,0.7,0.5,0.4,0.3,0.7,0.5,0.6,0.4, 0.6,0.6,1.0,0.6,0.5,0.7,0.5,0.4,0.4,0.4, 0.4,0.4,0.5,0.5,0.4,0.4,0.5,0.6,0.6,0.5],
 [21.2,26.0,23.3,15.3,12.5,19.4,23.5,18.1,18.9,18.3, 20.8,16.9,16.8,19.4,16.9,22.2,19.9,18.5,20.8,20.0, 15.1,14.5,14.0,14.7,10.7,10.1,13.7,10.9,11.2,11.2, 10.6,11.1,10.4,10.2,11.3,8.4,11.0,11.1,11.1,7.9, 23.2,9.6,10.2,9.6,9.5,7.9,10.1,11.0,8.0,9.9],
 [8,1.9,0.8,2.5,0.9,0.6,1.4,0.6,2.0,0.5, 1.5,1.0,0.8,0.9,0.5,1.0,0.6,1.1,0.5,0.5, 0.5,0.4,0.5,0.4,0.3,0.3,0.4,0.4,0.5,0.4, 0.3,0.5,0.4,0.3,0.4,0.4,0.3,0.3,0.3,0.3, 0.3,0.3,0.3,0.2,0.3,0.3,0.3,0.4,0.4,0.4],
 [23.5,19.7,15.2,27,19.2,25,25,25.4,29.2,23.7, 21.6,24.5,25.2,22,18.7,19.5,22.3,30.8,21.3,16.2, 21.7,29.9,23.8,15.4,17.5,22.4,19.8,23.1,17.0,19.6, 11.3,7.7,9.3,7.8,11.6,5.0,16.2,23.8,21.7,10.6, 18.8,12.8,12.9,15.2,14.2,8.1,24.6,14.6,7.0,12],
 [8.2,3.2,1.8,2.2,1.6,0.5,1.2,0.5,2.3,0.5, 1.4,1.1,0.8,1.0,0.6,1.2,0.7,1.3,0.6,0.6, 0.5,0.4,0.5,0.4,0.3,0.3,0.4,0.4,0.4,0.3, 0.3,0.4,0.3,0.3,0.3,0.3,0.3,0.3,0.3,0.3, 0.3,0.3,0.3,0.3,0.3,0.3,0.3,0.4,0.4,0.4],
 [30,20,45,15.3,13.2,12.4,18.2,14.6,19.8,17.4, 17.4,18.3,18.5,15.6,16.3,16.9,17.7,17.4,16.9,14.9, 18.0,17.6,16.2,15.2,14.6,14.7,14.1,16.5,11.6,13.8, 7.0,8.2,8.8,3.7,8.1,2.3,7.0,11.7,11.1,6.8, 14.9,10.1,8.3,4.4,6.6,2.9,7.1,8.4,5.7,4.4],
 [9,2.0,1.2,2.8,2.0,0.8,1.3,0.7,1.9,0.4, 1.7,1.3,0.9,1.0,0.7,1.1,0.6,0.8,0.4,0.6, 0.6,0.6,0.7,0.6,0.5,0.5,0.4,0.3,0.4,0.4, 0.3,0.5,0.4,0.4,0.5,0.5,0.5,0.4,0.4,0.4, 0.4,0.4,0.4,0.3,0.3,0.3,0.3,0.4,0.4,0.4],
 [14.1,14.4,8,5.5,5.3,3.5,4.6,2.2,4.6,2.6, 3.6,2.9,2.9,1.9,1.6,2.6,1.7,2.3,1.9,1.6, 1.2,1.3,2.2,1.6,1.8,1.6,1.6,1.1,1.8,1.8, 1.6,1.7,1.6,1.9,1.4,2.2,2.4,1.4,1.5,1.8, 3.1,2.3,2.0,1.7,1.9,2.0,2.0,4.2,2.6,2.1],
 [8,9.2,3.9,5.7,2.6,0.8,1.8,0.7,1.8,0.6, 1.8,1.4,1.4,1.5,1.5,1.5,1.2,1.0,0.9,0.8, 0.7,0.6,0.7,0.5,0.4,0.4,0.5,0.5,0.6,0.5, 0.3,0.4,1.9,0.8,0.8,0.6,0.5,2.6,0.6,0.6, 0.6,0.7,0.5,0.5,0.5,0.5,0.4,1.2,0.6,0.7],
 [19.2,14,4.5,7.8,3,3,12.2,4.9,6.8,6.2, 5.4,5.1,4.8,3.6,5.1,5.2,4.8,5.8,4.2,4.1, 4.1,4.3,4.0,4.5,4.6,4.7,4.7,4.5,5.3,5.3, 4.7,4.9,4.9,5.2,4.9,4.2,4.3,4.8,4.8,5.1, 4.5,5.2,5.2,4.9,5.3,5.3,5.2,4.6,5.6,5.2]
];

// (h) max slip angle error, set 2
var maxSlipH = [
 [10.2,6.3,8.8,5.6,6.4,2.6,3.3,4.3,2.0,4.0, 2.7,1.7,1.5,0.5,1.9,1.6,0.8,1.0,0.8,0.9, 0.7,0.8,0.8,0.5,0.5,0.6,0.9,0.5,0.6,0.6, 0.4,0.3,0.3,0.3,0.4,0.4,0.5,0.4,0.2,0.3, 0.4,0.3,0.3,0.8,0.2,0.2,0.2,0.2,0.3,0.3],
 [18.9,13.2,17.2,15.0,13.4,10.1,9.0,9.4,3.6,4.7, 5.6,5.2,4.8,3.9,4.2,5.4,2.9,3.9,2.6,3.4, 3.5,3.7,2.4,1.9,1.9,2.5,2.2,1.7,2.0,2.5, 1.6,2.4,3.3,2.1,1.8,1.5,2.0,3.7,2.1,1.9, 2.4,2.4,2.8,2.9,2.8,2.9,2.6,2.4,1.6,1.2],
 [16.6,15,23.8,18.2,19.6,13.0,9.0,6.0,3.5,4.2, 4.1,3.8,3.8,4.5,3.2,2.5,2.2,3.7,1.7,2.8, 1.9,1.9,1.3,2.4,2.0,1.0,2.0,0.6,1.0,1.0, 0.9,0.7,1.0,1.0,0.9,1.0,0.8,1.3,0.4,0.9, 0.9,0.7,0.5,0.9,0.6,0.7,0.6,0.6,0.6,0.6],
 [26,14.3,21.8,14.6,16,12.3,10.9,10.7,10,9.7, 10.8,7.7,6.7,3.3,7.3,7.5,4.7,5.9,5.0,6.5, 6.5,6.6,5.8,4.6,4.6,5.3,4.7,4.8,4.8,5.6, 3.8,5.3,6.2,5.1,5.2,5.0,5.3,5.7,4.7,5.5, 5.9,5.8,5.5,5.7,5.9,5.9,5.8,5.6,5.1,4.9],
 [9.0,5.9,8.6,5.1,6.4,2.9,2.9,3.8,1.8,3.3, 2.2,1.6,1.8,0.5,2.0,2.0,0.6,1.1,0.8,0.9, 1.0,1.0,0.7,0.6,0.5,0.6,0.7,0.6,0.5,0.4, 0.2,0.4,0.4,0.4,0.4,0.4,0.5,0.5,0.3,0.4, 0.4,0.5,0.4,0.6,0.5,0.4,0.5,0.4,0.4,0.4],
 [90,90,90,90,90,90,90,31.8,30.6,30.6, 29.8,28.6,27,15,19.7,14.7,11.7,13.2,11.8,14.0, 12.7,13.1,12.8,12.7,12.8,10.6,14.4,11.7,16.7,14.4, 13.6,11.1,16.3,11.9,12.4,10.3,17.2,13.0,10.6,12.6, 8.3,9.1,8.5,8.9,8.7,10.3,8.6,8.6,8.0,7.9],
 [8.2,3.2,8.3,4.0,6.2,2.4,3.2,4.0,1.8,3.6, 2.3,1.5,1.7,0.5,1.8,1.8,0.7,1.0,0.9,0.9, 0.8,0.8,0.7,0.5,0.4,0.5,0.7,0.5,0.5,0.4, 0.3,0.3,0.3,0.3,0.3,0.4,0.4,0.5,0.3,0.4, 0.4,0.4,0.3,0.7,0.2,0.2,0.3,0.2,0.2,0.2],
 [45,45,45,45,45,45,45,45,45,45, 45,45,33,27.8,34,30.6,24.0,28.7,21.7,23.9, 27.9,25.5,25.4,26.6,19.0,14.9,15.8,8.0,5.9,9.9, 7.0,18.0,9.7,7.1,14.4,9.1,8.1,7.7,16.5,13.3, 19.3,5.7,8.7,7.4,21.4,11.5,7.1,6.3,7.7,7.7],
 [8.5,4.5,8.5,4.5,6.3,2.5,3.0,3.9,1.6,3.4, 2.2,1.5,1.6,0.5,1.7,1.9,0.7,1.0,0.9,0.8, 0.8,0.9,0.7,0.5,0.5,0.5,0.6,0.5,0.5,0.4, 0.3,0.3,0.3,0.3,0.3,0.3,0.4,0.4,0.3,0.3, 0.3,0.4,0.3,0.6,0.2,0.2,0.2,0.2,0.2,0.2],
 [45,45,45,45,45,45,45,45,45,45, 38,27,20,15.7,17.3,16.6,12.5,11.8,13.5,10.0, 13.7,12.3,13.6,9.1,5.9,3.2,4.0,4.2,3.4,5.7, 3.2,3.6,9.9,4.0,2.4,3.0,5.7,6.6,4.9,4.3, 3.7,4.3,2.1,4.1,6.0,4.0,4.2,3.4,2.7,3.4],
 [90,90,90,90,90,90,90,18,17,4.2, 13.8,7.3,5.3,5.0,10.4,5.0,3.5,4.6,2.0,2.2, 4.3,1.8,2.5,2.6,2.9,2.4,3.4,1.2,1.1,1.1, 1.1,1.1,1.7,1.3,0.6,1.4,2.0,1.3,2.8,1.0, 1.1,1.5,1.0,2.0,1.1,1.1,1.0,1.0,0.8,1.0],
 [90,90,90,90,90,90,90,15.8,15.3,16.2, 7.7,7.7,8.7,6.3,12.2,6.6,6.3,5.7,6.5,5.1, 5.9,6.0,5.3,4.8,5.1,6.2,6.0,5.8,5.6,5.7, 4.9,5.6,6.0,5.4,5.3,5.3,5.7,5.6,5.6,5.8, 6.0,5.9,5.9,6.1,5.9,5.9,5.8,5.8,5.5,5.2],
 [9.2,8.5,10.8,7.7,8.3,2.7,5.0,5.5,2.0,3.6, 2.6,1.8,1.6,0.5,2.0,1.7,0.9,1.1,0.9,0.9, 0.7,0.8,0.9,0.7,0.6,0.6,1.0,0.5,0.8,0.9, 0.6,0.5,0.4,0.4,0.4,0.5,0.5,0.8,0.3,0.5, 0.5,0.4,0.3,0.8,0.4,0.4,0.5,0.5,0.4,0.4],
 [90,90,90,90,90,90,90,34,20,15.1, 17.4,14.8,12.0,6.1,7.0,3.6,3.8,4.6,2.8,3.3, 3.5,3.5,3.4,3.0,4.6,3.6,3.1,3.1,3.1,3.6, 2.7,2.9,3.9,3.3,2.7,2.8,3.0,3.0,3.0,3.0, 3.4,3.3,3.6,3.5,3.2,3.6,3.4,3.1,2.8,2.8]
];

var panels = [
    {label:"(a)", data:rmseRollA, title:"RMSE roll angle [deg]", ticks:rollRmseTicks, row:0, col:0, left:63},
    {label:"(b)", data:rmseRollB, title:"RMSE roll angle [deg]", ticks:rollRmseTicks, row:0, col:1, left:728},
    {label:"(c)", data:rmseSlipC, title:"RMSE slip angle [deg]", ticks:slipRmseTicks, row:1, col:0, left:63},
    {label:"(d)", data:rmseSlipD, title:"RMSE slip angle [deg]", ticks:slipRmseTicks, row:1, col:1, left:727},
    {label:"(e)", data:maxRollE, title:"Max roll angle error [deg]", ticks:maxErrTicks, row:2, col:0, left:57},
    {label:"(f)", data:maxRollF, title:"Max roll angle error [deg]", ticks:maxErrTicks, row:2, col:1, left:722},
    {label:"(g)", data:maxSlipG, title:"Max slip angle error [deg]", ticks:maxErrTicks, row:3, col:0, left:57},
    {label:"(h)", data:maxSlipH, title:"Max slip angle error [deg]", ticks:maxErrTicks, row:3, col:1, left:722}
];

var svg = d3.select("#chart-area").append("svg")
    .attr("width", 1342)
    .attr("height", 1669);

var gridColor = "#EBF0F8";
var textColor = "#2a3f5f";

panels.forEach((p, pi)=>{
    var top = p.row * 415;
    var bottom = top + 370;
    var right = p.col == 0 ? 496.7 : 1160.7;
    var topTick = p.ticks[p.ticks.length-1];
    var topTickY = p.ticks.length == 8 ? 53.3 : 30.7;

    var x = d3.scaleLinear().domain([0, 50]).range([p.left, right]);
    var y = d3.scaleLinear().domain([0, topTick]).range([bottom, top + topTickY]);

    var g = svg.append("g");

    // grid
    g.selectAll(".hgrid").data(p.ticks.slice(1)).enter().append("line")
        .attr("x1", p.left).attr("x2", right)
        .attr("y1", d=>y(d)).attr("y2", d=>y(d))
        .attr("stroke", gridColor).attr("stroke-width", 1);
    g.selectAll(".vgrid").data([10,20,30,40]).enter().append("line")
        .attr("x1", d=>x(d)).attr("x2", d=>x(d))
        .attr("y1", top + 30).attr("y2", bottom)
        .attr("stroke", gridColor).attr("stroke-width", 1);
    // zero lines
    g.append("line").attr("x1", p.left).attr("x2", right).attr("y1", bottom).attr("y2", bottom)
        .attr("stroke", gridColor).attr("stroke-width", 2);
    g.append("line").attr("x1", p.left).attr("x2", p.left).attr("y1", top + 30).attr("y2", bottom)
        .attr("stroke", gridColor).attr("stroke-width", 2);

    // clip
    var clipId = "clip" + pi;
    svg.append("clipPath").attr("id", clipId).append("rect")
        .attr("x", p.left).attr("y", top + 7)
        .attr("width", right - p.left).attr("height", bottom - top - 6);

    var line = d3.line().x((d, i)=>x(i)).y(d=>y(d));
    g.append("g").attr("clip-path", "url(#" + clipId + ")")
        .selectAll("path").data(p.data).enter().append("path")
        .attr("d", d=>line(d))
        .attr("fill", "none")
        .attr("stroke", (d, i)=>colors[i])
        .attr("stroke-width", 2.3)
        .attr("stroke-linejoin", "round");

    // axes
    var yAxis = g.append("g").attr("transform", "translate(" + p.left + ",0)")
        .call(d3.axisLeft(y).tickValues(p.ticks).tickSize(0).tickPadding(3).tickFormat(d=>String(d)));
    var xAxis = g.append("g").attr("transform", "translate(0," + bottom + ")")
        .call(d3.axisBottom(x).tickValues(epochTicks).tickSize(0).tickPadding(7));
    [yAxis, xAxis].forEach(a=>{
        a.select(".domain").remove();
        a.attr("font-size", 15).attr("font-family", "Open Sans").attr("color", textColor);
    });

    // titles
    g.append("text").attr("x", (p.left + right) / 2).attr("y", top + 408)
        .attr("dy", "0.35em").attr("text-anchor", "middle")
        .attr("font-size", 18).attr("fill", textColor).text("epoch");
    var tx = p.col == 0 ? 18 : 684;
    g.append("text").attr("transform", "translate(" + tx + "," + (top + 200) + ") rotate(-90)")
        .attr("dy", "0.35em").attr("text-anchor", "middle")
        .attr("font-size", 18).attr("fill", textColor).text(p.title);

    // legend
    var lx = right + 12;
    var leg = g.selectAll(".leg").data(seriesNames).enter().append("g")
        .attr("transform", (d, i)=>"translate(" + lx + "," + (top + 46 + i * 21.86) + ")");
    leg.append("line").attr("x1", 0).attr("x2", 23).attr("y1", 0).attr("y2", 0)
        .attr("stroke", (d, i)=>colors[i]).attr("stroke-width", 4);
    leg.append("text").attr("x", 27).attr("dy", "0.35em")
        .attr("font-size", 15).attr("fill", textColor).text(d=>d);

    // panel label
    g.append("text").attr("x", p.col == 0 ? 662 : 1327).attr("y", top + 413)
        .attr("text-anchor", "end").attr("font-size", 33)
        .style("font-family", "'Liberation Serif', 'Times New Roman', serif")
        .attr("fill", "#000").text(p.label);
});
</script>
</body>
</html>
